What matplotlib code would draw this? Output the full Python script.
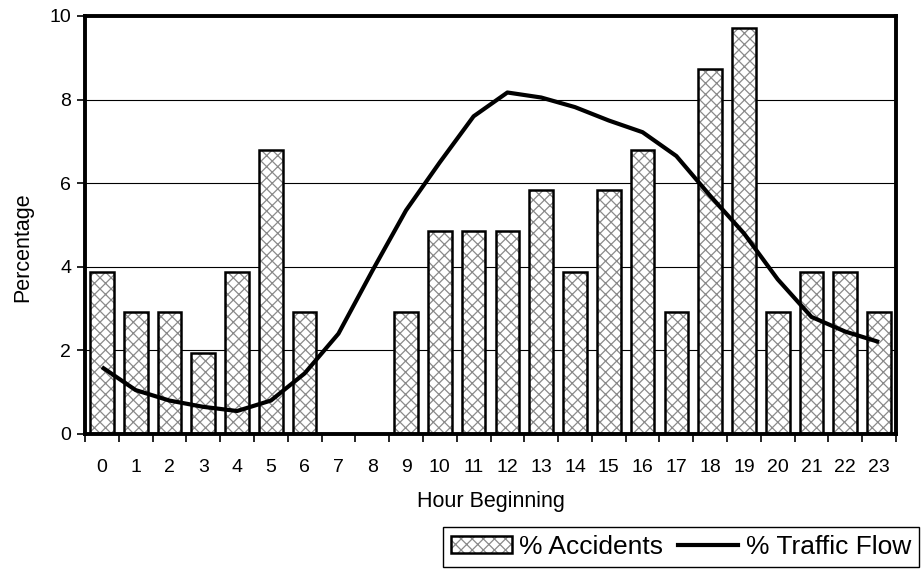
import matplotlib
matplotlib.use("Agg")
import matplotlib.pyplot as plt
from matplotlib.legend_handler import HandlerTuple
from matplotlib.lines import Line2D
from matplotlib.patches import Patch

plt.rcParams['font.family'] = ['Liberation Sans', 'DejaVu Sans']
plt.rcParams['hatch.linewidth'] = 0.9

hours = list(range(24))
hour_labels = [str(h) for h in hours]
accidents = [3.88, 2.91, 2.91, 1.94, 3.88, 6.80, 2.91, 0, 0, 2.91, 4.85, 4.85,
             4.85, 5.83, 3.88, 5.83, 6.80, 2.91, 8.74, 9.71, 2.91, 3.88, 3.88, 2.91]
traffic = [1.6, 1.05, 0.8, 0.65, 0.55, 0.8, 1.45, 2.4, 3.9, 5.35, 6.5, 7.6,
           8.17, 8.05, 7.82, 7.5, 7.22, 6.65, 5.7, 4.8, 3.7, 2.8, 2.45, 2.2]

fig = plt.figure(figsize=(9.22, 5.69), dpi=100)
L, R, T, B = 85, 896, 16, 434
ax = fig.add_axes([L/922, 1-B/569, (R-L)/922, (B-T)/569])

for y in [2, 4, 6, 8]:
    ax.axhline(y, color='black', lw=0.8, zorder=0)

ax.bar(hours, accidents, width=0.7, color='white', edgecolor='#8a8a8a',
       hatch='xxx', linewidth=0, zorder=2)
ax.bar(hours, accidents, width=0.7, fill=False, edgecolor='black',
       linewidth=1.8, zorder=3)
ax.plot(hours, traffic, color='black', lw=3.0, zorder=4, solid_capstyle='butt')

ax.set_xlim(-0.5, 23.5)
ax.set_ylim(0, 10)
ax.set_yticks([0, 2, 4, 6, 8, 10])
ax.set_xticks([h - 0.5 for h in hours] + [23.5])
ax.set_xticklabels([])
ax.set_xticks(hours, minor=True)
ax.set_xticklabels(hour_labels, minor=True)
ax.tick_params(axis='x', which='major', direction='out', length=6, width=1.2)
ax.tick_params(axis='x', which='minor', length=0, pad=18, labelsize=14)
ax.tick_params(axis='y', direction='out', length=6, width=1.2, labelsize=14, pad=4)
for s in ax.spines.values():
    s.set_linewidth(2.8)

ax.set_ylabel('Percentage', fontsize=15.5)
ax.yaxis.set_label_coords(-0.064, 0.447)
ax.set_xlabel('Hour Beginning', fontsize=15.5, labelpad=11)

h_hatch = Patch(facecolor='white', edgecolor='#8a8a8a', hatch='xxx', linewidth=0)
h_edge = Patch(fill=False, edgecolor='black', linewidth=1.8)
h_line = Line2D([], [], color='black', lw=3.0)
leg = fig.legend([(h_hatch, h_edge), h_line], ['% Accidents', '% Traffic Flow'],
                 handler_map={tuple: HandlerTuple(ndivide=1)},
                 loc='upper right', bbox_to_anchor=(919/922, 1-527/569),
                 ncol=2, fontsize=19, fancybox=False, framealpha=1,
                 edgecolor='black', handlelength=2.3, handleheight=0.65,
                 columnspacing=0.55, handletextpad=0.28, borderpad=0.3,
                 borderaxespad=0)
leg.get_frame().set_linewidth(1.0)

fig.savefig('out.png', dpi=100)
